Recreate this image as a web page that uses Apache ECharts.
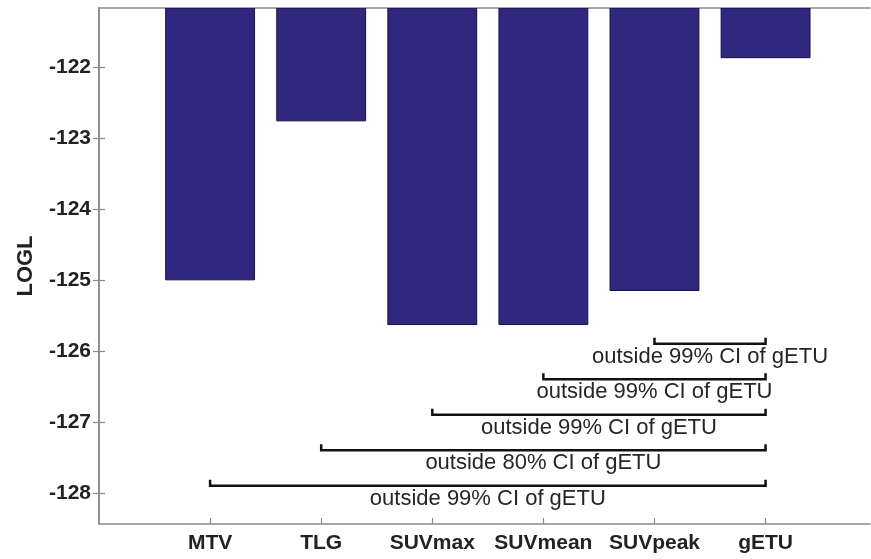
<!DOCTYPE html>
<html>
<head>
<meta charset="utf-8">
<title>LOGL by predictor</title>
<script src="https://cdn.jsdelivr.net/npm/echarts@6/dist/echarts.min.js"></script>
<style>
  html, body { margin: 0; padding: 0; background: #fff; }
  #chart { width: 871px; height: 559px; }
</style>
</head>
<body>
<div id="chart"></div>
<script>
// Predictors on the x axis and their log-likelihood
const categories = ['MTV', 'TLG', 'SUVmax', 'SUVmean', 'SUVpeak', 'gETU'];
const logL = [-125.0, -122.76, -125.63, -125.63, -125.15, -121.87];

// Y axis tick values
const yTicks = [-128, -127, -126, -125, -124, -123, -122];

// Significance brackets: each runs from a predictor to gETU
const bracketFrom = ['SUVpeak', 'SUVmean', 'SUVmax', 'TLG', 'MTV'];
const bracketTo = ['gETU', 'gETU', 'gETU', 'gETU', 'gETU'];
const bracketLevel = [-125.9, -126.4, -126.9, -127.4, -127.9];
const bracketText = [
  'outside 99% CI of gETU',
  'outside 99% CI of gETU',
  'outside 99% CI of gETU',
  'outside 80% CI of gETU',
  'outside 99% CI of gETU'
];

const Y_MIN = -128.44;
const Y_MAX = -121.17;
const FONT = "'Liberation Sans', Arial, Helvetica, sans-serif";
const AXIS_COLOR = '#8a8a8a';

const barData = logL.map((v, i) => [i + 1, v]);
const bracketData = bracketFrom.map((f, i) => [
  categories.indexOf(f) + 1,
  categories.indexOf(bracketTo[i]) + 1,
  bracketLevel[i]
]);

const chart = echarts.init(document.getElementById('chart'), null, { renderer: 'canvas' });

chart.setOption({
  animation: false,
  backgroundColor: '#fff',
  grid: { left: 99, right: 1, top: 8, bottom: 35 },
  xAxis: [{
    type: 'value',
    min: 0,
    max: 6.94,
    axisLine: { show: true, lineStyle: { color: AXIS_COLOR, width: 1.5 } },
    axisTick: {
      show: true, inside: true, length: 6,
      customValues: categories.map((c, i) => i + 1),
      lineStyle: { color: AXIS_COLOR, width: 1.2 }
    },
    axisLabel: {
      show: true,
      customValues: categories.map((c, i) => i + 1),
      formatter: v => categories[Math.round(v) - 1] || '',
      color: '#222', fontFamily: FONT, fontWeight: 'bold', fontSize: 21, margin: 9
    },
    splitLine: { show: false }
  }, {
    type: 'value',
    position: 'top',
    min: 0,
    max: 6.94,
    axisLine: { show: true, lineStyle: { color: AXIS_COLOR, width: 1.5 } },
    axisTick: { show: false },
    axisLabel: { show: false },
    splitLine: { show: false }
  }],
  yAxis: [{
    type: 'value',
    min: Y_MIN,
    max: Y_MAX,
    name: 'LOGL',
    nameLocation: 'middle',
    nameRotate: 90,
    nameGap: 62,
    nameTextStyle: { color: '#222', fontFamily: FONT, fontWeight: 'bold', fontSize: 22 },
    axisLine: { show: true, lineStyle: { color: AXIS_COLOR, width: 1.5 } },
    axisTick: {
      show: true, inside: true, length: 6,
      customValues: yTicks,
      lineStyle: { color: AXIS_COLOR, width: 1.2 }
    },
    axisLabel: {
      show: true,
      customValues: yTicks,
      formatter: v => String(Math.round(v)),
      color: '#222', fontFamily: FONT, fontWeight: 'bold', fontSize: 21, margin: 8
    },
    splitLine: { show: false }
  }, {
    type: 'value',
    position: 'right',
    min: Y_MIN,
    max: Y_MAX,
    axisLine: { show: true, lineStyle: { color: AXIS_COLOR, width: 1.5 } },
    axisTick: {
      show: true, inside: true, length: 6,
      customValues: yTicks,
      lineStyle: { color: AXIS_COLOR, width: 1.2 }
    },
    axisLabel: { show: false },
    splitLine: { show: false }
  }],
  series: [{
    // bars hang from the top of the plot down to each value
    type: 'custom',
    xAxisIndex: 0,
    yAxisIndex: 0,
    data: barData,
    clip: true,
    renderItem: (params, api) => {
      const x = api.value(0);
      const v = api.value(1);
      const top = api.coord([x, Y_MAX]);
      const bottom = api.coord([x, v]);
      const w = api.size([0.8, 0])[0];
      return {
        type: 'rect',
        shape: { x: top[0] - w / 2, y: top[1], width: w, height: bottom[1] - top[1] },
        style: { fill: '#30287f', stroke: '#17133f', lineWidth: 1 }
      };
    }
  }, {
    // comparison brackets with their captions
    type: 'custom',
    xAxisIndex: 0,
    yAxisIndex: 0,
    data: bracketData,
    renderItem: (params, api) => {
      const a = api.coord([api.value(0), api.value(2)]);
      const b = api.coord([api.value(1), api.value(2)]);
      const y = a[1];
      return {
        type: 'group',
        children: [{
          type: 'polyline',
          shape: { points: [[a[0], y - 6], [a[0], y], [b[0], y], [b[0], y - 6]] },
          style: { stroke: '#111', lineWidth: 2.5, fill: null }
        }, {
          type: 'text',
          style: {
            x: (a[0] + b[0]) / 2,
            y: y + 13,
            text: bracketText[params.dataIndex],
            align: 'center',
            verticalAlign: 'middle',
            fill: '#262626',
            font: '22px ' + FONT
          }
        }]
      };
    }
  }]
});
</script>
</body>
</html>
